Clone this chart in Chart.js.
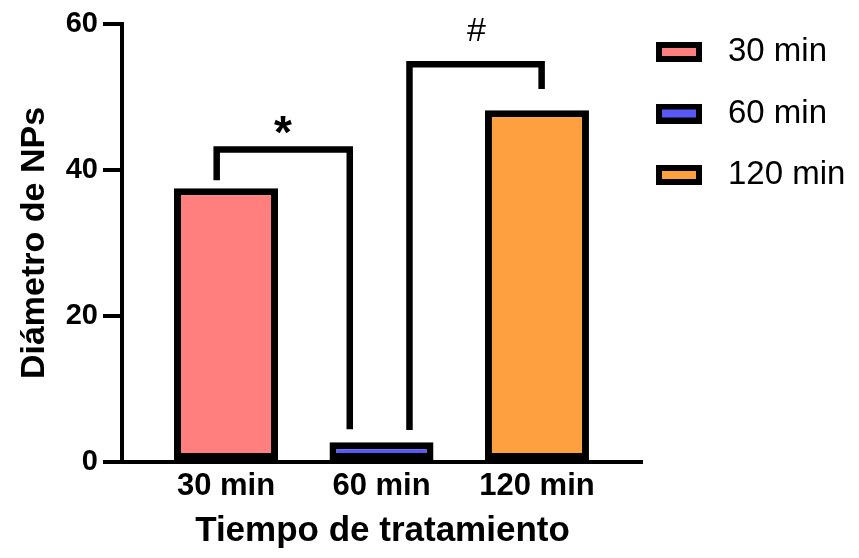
<!DOCTYPE html>
<html><head><meta charset="utf-8">
<script src="https://cdn.jsdelivr.net/npm/chart.js@4.4.1/dist/chart.umd.min.js"></script>
<style>html,body{margin:0;padding:0;background:#fff;}</style>
</head><body>
<canvas id="c" width="859" height="558" style="display:block;width:859px;height:558px"></canvas>
<script>
// ---- data ----
const categories = ['30 min', '60 min', '120 min'];
const values = [37.5, 2.7, 48.2];
const barColors = ['#FF7F7F', '#5858F6', '#FFA040'];
const yTickValues = [0, 20, 40, 60];
// significance brackets, in data units (x = category index, y = value)
const bracketStarX = [-0.06, -0.06, 0.796, 0.796];
const bracketStarY = [38.6, 42.8, 42.8, 4.5];
const bracketHashX = [1.18, 1.18, 2.03, 2.03];
const bracketHashY = [4.4, 54.5, 54.5, 51.1];
const sigLabels = ['*', '#'];
const sigX = [0.367, 1.611];
const sigY = [43.0, 57.7];

const FAMILY = "'Liberation Sans', Arial, Helvetica, sans-serif";

function swatch(color) {
  const c = document.createElement('canvas');
  c.width = 71; c.height = 20;
  const g = c.getContext('2d');
  g.fillStyle = '#000'; g.fillRect(0, 0, 46, 20);
  g.fillStyle = color; g.fillRect(6, 6, 34, 8);
  return c;
}
const swatches = barColors.map(swatch);

const barSets = categories.map((cat, i) => ({
  type: 'bar',
  label: cat,
  data: [{x: i, y: values[i]}],
  backgroundColor: barColors[i],
  borderColor: '#000',
  borderWidth: 7,
  borderSkipped: false,
  grouped: false,
  barPercentage: 0.669,
  categoryPercentage: 1
}));
function bracket(xs, ys) {
  return {
    type: 'line',
    label: '_bracket',
    data: xs.map((x, i) => ({x: x, y: ys[i]})),
    borderColor: '#000',
    borderWidth: 6.5,
    borderJoinStyle: 'miter',
    borderCapStyle: 'butt',
    pointRadius: 0,
    pointHoverRadius: 0,
    fill: false,
    tension: 0
  };
}

const sigPlugin = {
  id: 'sig',
  afterDatasetsDraw(chart) {
    const {ctx, scales: {x, y}} = chart;
    ctx.save();
    ctx.fillStyle = '#000';
    ctx.textAlign = 'center';
    ctx.textBaseline = 'alphabetic';
    sigLabels.forEach((t, i) => {
      ctx.font = (t === '*' ? 'bold 46px ' : '34px ') + FAMILY;
      ctx.fillText(t, x.getPixelForValue(sigX[i]), y.getPixelForValue(sigY[i]));
    });
    ctx.restore();
  }
};

new Chart(document.getElementById('c'), {
  type: 'bar',
  data: {
    datasets: [...barSets, bracket(bracketStarX, bracketStarY), bracket(bracketHashX, bracketHashY)]
  },
  plugins: [sigPlugin],
  options: {
    responsive: false,
    devicePixelRatio: 1,
    animation: false,
    events: [],
    layout: {padding: {top: 7, right: 3.6, left: 0, bottom: 0}},
    plugins: {
      tooltip: {enabled: false},
      legend: {
        position: 'right',
        align: 'start',
        labels: {
          usePointStyle: true,
          pointStyleWidth: 40,
          padding: 28.5,
          color: '#000',
          font: {family: FAMILY, size: 33},
          filter: (item) => item.datasetIndex < categories.length,
          generateLabels(chart) {
            const items = Chart.defaults.plugins.legend.labels.generateLabels(chart);
            return items.map(it => Object.assign({}, it, {
              pointStyle: swatches[it.datasetIndex] || it.pointStyle,
              fontColor: '#000'
            }));
          }
        }
      }
    },
    scales: {
      x: {
        type: 'linear',
        min: -0.669,
        max: 2.682,
        offset: false,
        grid: {display: false, drawTicks: false, offset: false},
        border: {display: true, color: '#000', width: 4},
        afterBuildTicks(s) { s.ticks = categories.map((c, i) => ({value: i})); },
        ticks: {
          autoSkip: false,
          maxRotation: 0,
          padding: 5.4,
          color: '#000',
          font: {family: FAMILY, size: 31, weight: 'bold'},
          callback: (v) => categories[Math.round(v)]
        },
        title: {
          display: true,
          text: 'Tiempo de tratamiento',
          color: '#000',
          font: {family: FAMILY, size: 35, weight: 'bold'},
          padding: {top: 0, bottom: 5.5}
        },
        afterFit(s) { s.height = 96; }
      },
      y: {
        min: 0,
        max: 60,
        afterBuildTicks(s) { s.ticks = yTickValues.map(v => ({value: v})); },
        grid: {drawOnChartArea: false, drawTicks: true, tickLength: 19, color: '#000', lineWidth: 4},
        border: {display: true, color: '#000', width: 4},
        ticks: {
          padding: 5,
          color: '#000',
          font: {family: FAMILY, size: 29, weight: 'bold'}
        },
        title: {
          display: true,
          text: 'Diámetro de NPs',
          color: '#000',
          font: {family: FAMILY, size: 34, weight: 'bold'},
          padding: {top: 14.6, bottom: 0}
        },
        afterFit(s) { s.width = 122; s.paddingTop = 24; }
      }
    }
  }
});
</script>
</body></html>
